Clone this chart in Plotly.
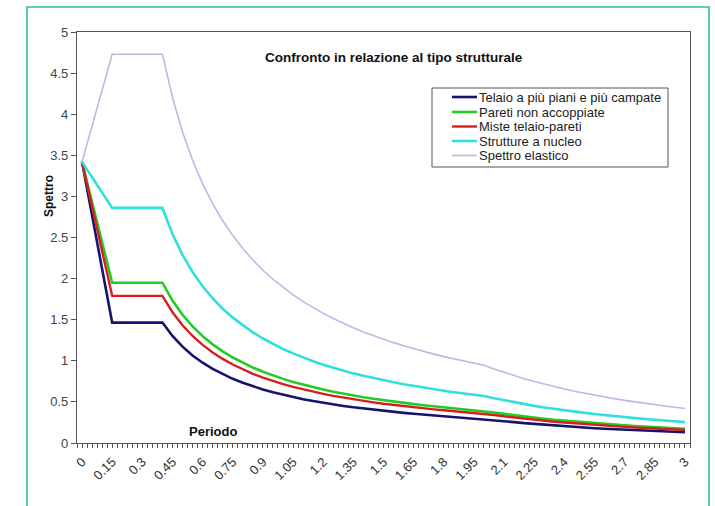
import plotly.graph_objects as go

# Periodo T [s]
periodo = [0.00, 0.05, 0.10, 0.15, 0.20, 0.25, 0.30, 0.35, 0.40, 0.45,
           0.50, 0.55, 0.60, 0.65, 0.70, 0.75, 0.80, 0.85, 0.90, 0.95,
           1.00, 1.05, 1.10, 1.15, 1.20, 1.25, 1.30, 1.35, 1.40, 1.45,
           1.50, 1.55, 1.60, 1.65, 1.70, 1.75, 1.80, 1.85, 1.90, 1.95,
           2.00, 2.05, 2.10, 2.15, 2.20, 2.25, 2.30, 2.35, 2.40, 2.45,
           2.50, 2.55, 2.60, 2.65, 2.70, 2.75, 2.80, 2.85, 2.90, 2.95,
           3.00]

telaio = [3.42, 2.77, 2.12, 1.465, 1.465, 1.465, 1.465, 1.465, 1.465,
          1.302, 1.172, 1.065, 0.977, 0.902, 0.837, 0.781, 0.733, 0.689, 0.651,
          0.617, 0.586, 0.558, 0.533, 0.510, 0.488, 0.469, 0.451, 0.434, 0.419,
          0.404, 0.391, 0.378, 0.366, 0.355, 0.345, 0.335, 0.326, 0.317, 0.308,
          0.301, 0.293,
          0.279, 0.266, 0.254, 0.242, 0.232, 0.222, 0.212, 0.203, 0.195, 0.188,
          0.180, 0.173, 0.167, 0.161, 0.155, 0.149, 0.144, 0.139, 0.135, 0.130]

pareti = [3.42, 2.93, 2.44, 1.95, 1.95, 1.95, 1.95, 1.95, 1.95,
          1.733, 1.560, 1.418, 1.300, 1.200, 1.114, 1.040, 0.975, 0.918, 0.867,
          0.821, 0.780, 0.743, 0.709, 0.678, 0.650, 0.624, 0.600, 0.578, 0.557,
          0.538, 0.520, 0.503, 0.488, 0.473, 0.459, 0.446, 0.433, 0.422, 0.411,
          0.400, 0.390,
          0.371, 0.354, 0.337, 0.322, 0.308, 0.295, 0.282, 0.271, 0.260, 0.250,
          0.240, 0.231, 0.222, 0.214, 0.206, 0.199, 0.192, 0.185, 0.179, 0.173]

miste = [3.42, 2.88, 2.33, 1.79, 1.79, 1.79, 1.79, 1.79, 1.79,
         1.591, 1.432, 1.302, 1.193, 1.102, 1.023, 0.955, 0.895, 0.842, 0.796,
         0.754, 0.716, 0.682, 0.651, 0.623, 0.597, 0.573, 0.551, 0.530, 0.511,
         0.494, 0.477, 0.462, 0.448, 0.434, 0.421, 0.409, 0.398, 0.387, 0.377,
         0.367, 0.358,
         0.341, 0.325, 0.310, 0.296, 0.283, 0.271, 0.259, 0.249, 0.239, 0.229,
         0.220, 0.212, 0.204, 0.196, 0.189, 0.183, 0.176, 0.170, 0.165, 0.159]

nucleo = [3.42, 3.23, 3.05, 2.86, 2.86, 2.86, 2.86, 2.86, 2.86,
          2.542, 2.288, 2.080, 1.907, 1.760, 1.634, 1.525, 1.430, 1.346, 1.271,
          1.204, 1.144, 1.090, 1.040, 0.995, 0.953, 0.915, 0.880, 0.847, 0.817,
          0.789, 0.763, 0.738, 0.715, 0.693, 0.673, 0.654, 0.636, 0.618, 0.602,
          0.587, 0.572,
          0.544, 0.519, 0.495, 0.473, 0.452, 0.433, 0.414, 0.397, 0.381, 0.366,
          0.352, 0.338, 0.326, 0.314, 0.303, 0.292, 0.282, 0.272, 0.263, 0.254]

elastico = [3.42, 3.86, 4.29, 4.73, 4.73, 4.73, 4.73, 4.73, 4.73,
            4.204, 3.784, 3.440, 3.153, 2.911, 2.703, 2.523, 2.365, 2.226, 2.102,
            1.992, 1.892, 1.802, 1.720, 1.645, 1.577, 1.514, 1.455, 1.401, 1.351,
            1.305, 1.261, 1.221, 1.183, 1.147, 1.113, 1.081, 1.051, 1.023, 0.996,
            0.970, 0.946,
            0.900, 0.858, 0.819, 0.782, 0.747, 0.715, 0.685, 0.657, 0.630, 0.605,
            0.582, 0.560, 0.539, 0.519, 0.500, 0.483, 0.466, 0.450, 0.435, 0.420]

serie_nomi = ["Telaio a più piani e più campate", "Pareti non accoppiate",
              "Miste telaio-pareti", "Strutture a nucleo", "Spettro elastico"]
serie_valori = [telaio, pareti, miste, nucleo, elastico]
serie_colori = ["#14146e", "#22cc22", "#d42020", "#33dede", "#c4b4e4"]
serie_spessori = [2.6, 2.6, 2.4, 2.6, 1.6]

x_tick_vals = [0, 0.15, 0.3, 0.45, 0.6, 0.75, 0.9, 1.05, 1.2, 1.35, 1.5,
               1.65, 1.8, 1.95, 2.1, 2.25, 2.4, 2.55, 2.7, 2.85, 3.0]
x_tick_text = ["0", "0.15", "0.3", "0.45", "0.6", "0.75", "0.9", "1.05", "1.2",
               "1.35", "1.5", "1.65", "1.8", "1.95", "2.1", "2.25", "2.4",
               "2.55", "2.7", "2.85", "3"]
y_tick_vals = [0, 0.5, 1, 1.5, 2, 2.5, 3, 3.5, 4, 4.5, 5]
y_tick_text = ["0", "0.5", "1", "1.5", "2", "2.5", "3", "3.5", "4", "4.5", "5"]

W, H = 715, 506
L, R, T, B = 77, 690, 32, 443   # plot area in pixels
FONT = "Liberation Sans, Arial, sans-serif"


def px(xp):
    return (xp - L) / (R - L)


def py(yp):
    return (B - yp) / (B - T)


fig = go.Figure()
for nome, valori, colore, sp in zip(serie_nomi, serie_valori, serie_colori, serie_spessori):
    fig.add_trace(go.Scatter(x=periodo, y=valori, mode="lines", name=nome,
                             line=dict(color=colore, width=sp),
                             showlegend=False))

shapes = []
annotations = []

# outer frame
shapes.append(dict(type="rect", xref="paper", yref="paper",
                   x0=px(27), x1=px(709), y0=py(530), y1=py(7),
                   line=dict(color="#2fbf8c", width=1.6), layer="below"))

# legend box
shapes.append(dict(type="rect", xref="paper", yref="paper",
                   x0=px(432), x1=px(668), y0=py(167), y1=py(88),
                   line=dict(color="#555555", width=1), fillcolor="white"))
leg_y = [97, 112, 126.5, 141, 155.5]
for nome, colore, sp, yy in zip(serie_nomi, serie_colori, serie_spessori, leg_y):
    shapes.append(dict(type="line", xref="paper", yref="paper",
                       x0=px(452), x1=px(477), y0=py(yy), y1=py(yy),
                       line=dict(color=colore, width=sp)))
    annotations.append(dict(text=nome, xref="paper", yref="paper",
                            x=px(477), y=py(yy), xanchor="left", yanchor="middle",
                            showarrow=False,
                            font=dict(family=FONT, size=13, color="#222222")))

# chart title
annotations.append(dict(text="<b>Confronto in relazione al tipo strutturale</b>",
                        xref="paper", yref="paper", x=px(394), y=py(57),
                        xanchor="center", yanchor="middle", showarrow=False,
                        font=dict(family=FONT, size=13.5, color="#111111")))
# axis titles
annotations.append(dict(text="<b>Periodo</b>", xref="paper", yref="paper",
                        x=px(213), y=py(431), xanchor="center", yanchor="middle",
                        showarrow=False,
                        font=dict(family=FONT, size=13, color="#111111")))
annotations.append(dict(text="<b>Spettro</b>", xref="paper", yref="paper",
                        x=px(49), y=py(196), xanchor="center", yanchor="middle",
                        textangle=-90, showarrow=False,
                        font=dict(family=FONT, size=12, color="#111111")))

fig.update_layout(
    width=W, height=H,
    margin=dict(l=L, r=W - R, t=T, b=H - B, pad=0),
    paper_bgcolor="white", plot_bgcolor="white",
    shapes=shapes, annotations=annotations,
    showlegend=False,
    xaxis=dict(range=[-0.025, 3.025], tickmode="array",
               tickvals=x_tick_vals, ticktext=x_tick_text,
               tickangle=-45, ticks="", showgrid=False, zeroline=False,
               ticklabelstandoff=5,
               showline=True, linecolor="#555555", linewidth=1.2, mirror=True,
               tickfont=dict(family=FONT, size=13, color="#333333"),
               minor=dict(ticks="outside", tick0=-0.025, dtick=0.025,
                          ticklen=4, tickcolor="#555555", tickwidth=1,
                          showgrid=False)),
    yaxis=dict(range=[0, 5], tickmode="array",
               tickvals=y_tick_vals, ticktext=y_tick_text,
               ticks="outside", ticklen=5, tickcolor="#555555",
               showgrid=False, zeroline=False,
               showline=True, linecolor="#555555", linewidth=1.2, mirror=True,
               tickfont=dict(family=FONT, size=13, color="#444444")),
)

fig.write_html("out.html")
